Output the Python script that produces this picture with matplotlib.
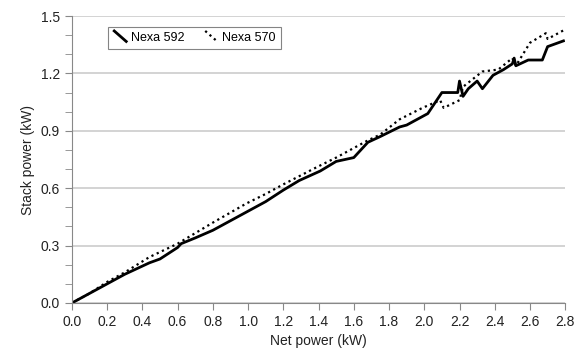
import matplotlib
matplotlib.use("Agg")
import matplotlib.pyplot as plt
from matplotlib.lines import Line2D
from matplotlib.ticker import MultipleLocator

plt.rcParams['font.family'] = ['Liberation Sans', 'DejaVu Sans']

# Nexa 592 (solid)
net_592 = [0.0, 0.1, 0.2, 0.3, 0.44, 0.5, 0.6, 0.62, 0.7, 0.8, 0.9, 0.98, 1.1, 1.2, 1.29, 1.41,
           1.5, 1.6, 1.68, 1.75, 1.86, 1.9, 2.02, 2.1, 2.19, 2.2, 2.22, 2.25, 2.3, 2.33, 2.39,
           2.45, 2.5, 2.51, 2.52, 2.59, 2.67, 2.70, 2.79]
stack_592 = [0.0, 0.05, 0.1, 0.15, 0.21, 0.23, 0.29, 0.31, 0.34, 0.38, 0.43, 0.47, 0.53, 0.59, 0.64, 0.69,
             0.74, 0.76, 0.84, 0.87, 0.92, 0.93, 0.99, 1.10, 1.10, 1.16, 1.08, 1.12, 1.16, 1.12, 1.19,
             1.22, 1.25, 1.28, 1.24, 1.27, 1.27, 1.34, 1.37]

# Nexa 570 (dotted)
net_570 = [0.0, 0.1, 0.2, 0.3, 0.44, 0.6, 0.8, 0.99, 1.1, 1.2, 1.39, 1.5, 1.6, 1.68, 1.75, 1.86,
           1.99, 2.09, 2.11, 2.2, 2.22, 2.33, 2.42, 2.5, 2.52, 2.6, 2.69, 2.70, 2.80]
stack_570 = [0.0, 0.05, 0.11, 0.16, 0.24, 0.31, 0.42, 0.52, 0.57, 0.62, 0.71, 0.76, 0.81, 0.85, 0.88, 0.96,
             1.02, 1.06, 1.02, 1.06, 1.13, 1.21, 1.22, 1.28, 1.24, 1.36, 1.41, 1.38, 1.43]

labels = ["Nexa 592", "Nexa 570"]
DOT = (0, (1, 1.6))


class DiagonalHandler:
    def legend_artist(self, legend, orig_handle, fontsize, handlebox):
        x0, y0 = handlebox.xdescent, handlebox.ydescent
        w, h = handlebox.width, handlebox.height
        ls = DOT if orig_handle.get_label() == labels[1] else "-"
        line = Line2D([x0 + w * 0.1, x0 + w * 0.9], [y0 + h * 1.1, y0 - h * 0.1],
                      color=orig_handle.get_color(), linestyle=ls,
                      linewidth=orig_handle.get_linewidth(),
                      transform=handlebox.get_transform())
        handlebox.add_artist(line)
        return line


fig = plt.figure(figsize=(5.75, 3.64), dpi=100)
ax = fig.add_axes([0.125, 0.1676, 0.858, 0.7884])

l1, = ax.plot(net_592, stack_592, color="black", linewidth=2.0, linestyle="-", label=labels[0])
l2, = ax.plot(net_570, stack_570, color="black", linewidth=1.6, linestyle=DOT, label=labels[1])

ax.set_xlim(0, 2.8)
ax.set_ylim(0, 1.5)
ax.xaxis.set_major_locator(MultipleLocator(0.2))
ax.yaxis.set_major_locator(MultipleLocator(0.3))
ax.yaxis.set_minor_locator(MultipleLocator(0.1))
ax.xaxis.set_major_formatter(plt.FormatStrFormatter("%.1f"))
ax.yaxis.set_major_formatter(plt.FormatStrFormatter("%.1f"))

ax.grid(axis="y", which="major", color="#cccccc", linewidth=1.2)
ax.set_axisbelow(True)
for s in ["top", "right"]:
    ax.spines[s].set_visible(False)
for s in ["left", "bottom"]:
    ax.spines[s].set_color("#888888")
ax.tick_params(axis="both", which="both", color="#888888", labelsize=10, labelcolor="#222222")
ax.tick_params(axis="both", which="major", length=5)
ax.tick_params(axis="y", which="minor", length=5)

ax.set_xlabel("Net power (kW)", fontsize=10, color="#222222")
ax.set_ylabel("Stack power (kW)", fontsize=10, color="#222222")

leg = ax.legend(handles=[l1, l2], handler_map={Line2D: DiagonalHandler()}, ncol=2,
                loc="upper left", bbox_to_anchor=(0.06, 0.985), fontsize=9,
                frameon=True, fancybox=False, edgecolor="#666666",
                handlelength=1.2, handletextpad=0.3, columnspacing=1.5, borderpad=0.4)
leg.get_frame().set_linewidth(0.8)

fig.savefig("out.png", dpi=100)
